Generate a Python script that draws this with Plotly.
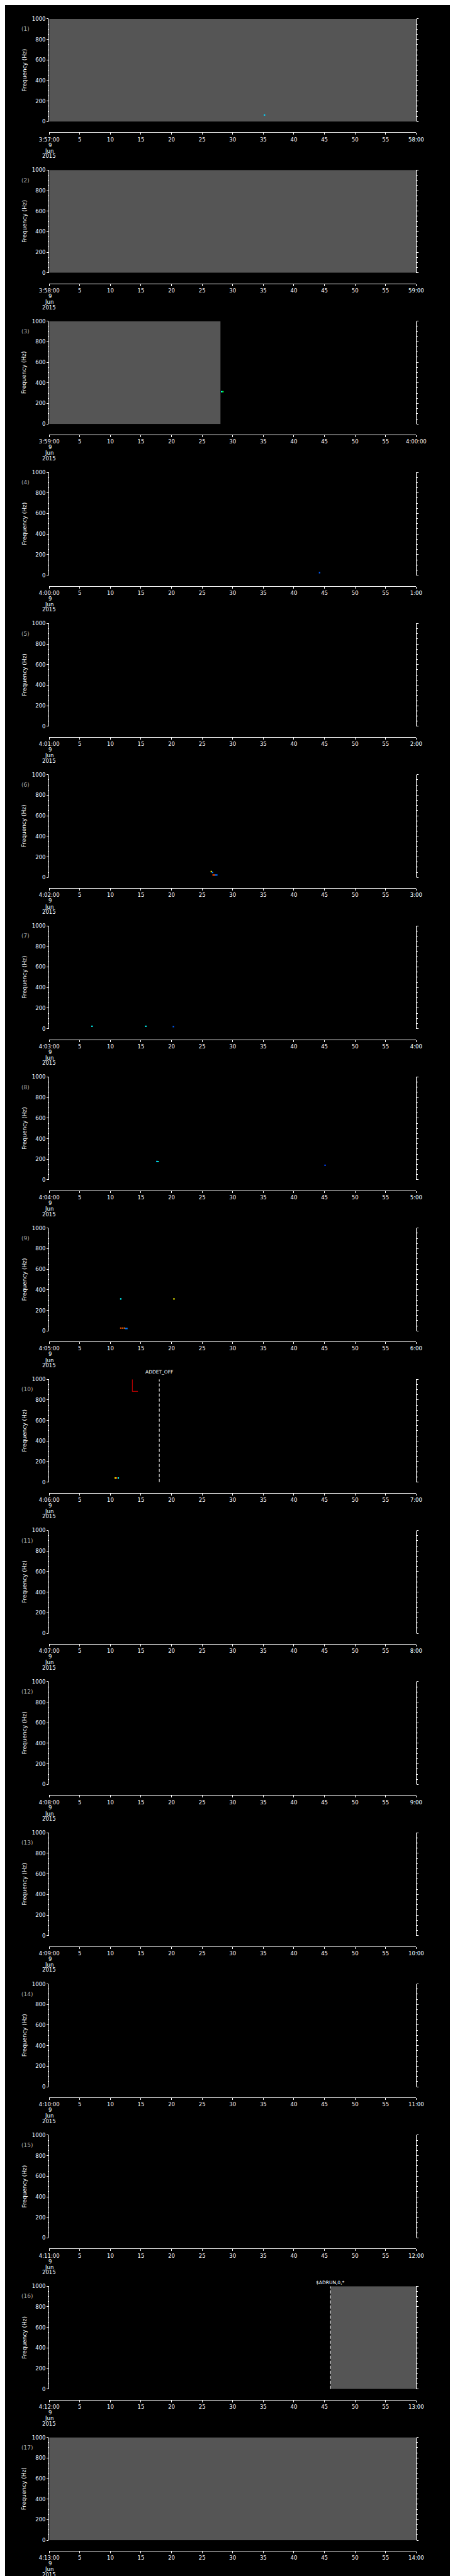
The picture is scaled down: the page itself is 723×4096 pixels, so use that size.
import plotly.graph_objects as go

# ---------------- data ----------------
start_labels = ["3:57:00", "3:58:00", "3:59:00", "4:00:00", "4:01:00", "4:02:00",
                "4:03:00", "4:04:00", "4:05:00", "4:06:00", "4:07:00", "4:08:00",
                "4:09:00", "4:10:00", "4:11:00", "4:12:00", "4:13:00"]
end_labels = ["58:00", "59:00", "4:00:00", "1:00", "2:00", "3:00", "4:00", "5:00",
              "6:00", "7:00", "8:00", "9:00", "10:00", "11:00", "12:00", "13:00", "14:00"]
date_lines = ["9", "Jun", "2015"]
tick_seconds = [0, 5, 10, 15, 20, 25, 30, 35, 40, 45, 50, 55, 60]
mid_tick_labels = ["5", "10", "15", "20", "25", "30", "35", "40", "45", "50", "55"]
freq_ticks = [0, 200, 400, 600, 800, 1000]

# spans of recorded data (panel number, start s, end s)
cov_panel = [1, 2, 3, 16, 17]
cov_start = [0.0, 0.0, 0.0, 46.0, 0.0]
cov_end = [60.0, 60.0, 28.0, 60.0, 60.0]

# isolated spectral features (panel, time s, freq Hz, relative power 0..1)
feat_panel = [1, 3, 3, 4, 6, 6, 6, 6, 6, 6, 7, 7, 7, 8, 8, 8, 9, 9, 9, 9, 9, 9, 9, 10, 10, 10]
feat_time = [35.2, 28.2, 28.4, 44.2, 26.5, 26.7, 26.8, 27.0, 27.2, 27.4, 7.0, 15.8, 20.3,
             17.6, 17.8, 45.1, 11.7, 20.4, 11.7, 12.0, 12.3, 12.5, 12.7, 10.8, 11.0, 11.3]
feat_freq = [65, 314, 314, 24, 57, 50, 24, 24, 24, 24, 23, 23, 20,
             178, 177, 141, 311, 311, 28, 28, 28, 24, 24, 40, 40, 40]
feat_power = [0.38, 0.42, 0.55, 0.22, 0.72, 0.30, 0.92, 0.90, 0.25, 0.25, 0.42, 0.42, 0.22,
              0.35, 0.45, 0.15, 0.42, 0.70, 0.90, 0.90, 0.85, 0.25, 0.30, 0.72, 0.90, 0.42]

# strong emission trace in panel 10
trace10_time = [13.6, 13.6, 14.5]
trace10_freq = [1000, 882, 882]

# instrument events
event_panel = [10, 16]
event_time = [18.0, 46.0]
event_text = ["ADDET_OFF", "$ADRUN,0,*"]

# ---------------- geometry (reference px, scaled via paper coords) ----------------
REF_W, REF_H = 1024.0, 5802.0
N = 17
P = REF_H / N
X0, X1 = 80.3 / REF_W, 944.5 / REF_W
TOP, BOT, XLINE = 24.1, 256.3, 280.4
event_raise = [17.0, 8.5]

def py(ref_y):
    return 1.0 - ref_y / REF_H

power_scale = [[0.0, "#0000ff"], [0.3, "#0080ff"], [0.42, "#00ffff"], [0.55, "#00ff40"],
               [0.7, "#ffff00"], [0.85, "#ff8000"], [1.0, "#ff0000"]]

TF = dict(family="DejaVu Sans, Arial, sans-serif", size=8.5, color="white")

fig = go.Figure()
layout = dict(width=723, height=4096, margin=dict(l=0, r=0, t=0, b=0),
              paper_bgcolor="black", plot_bgcolor="black", showlegend=False)
annotations = []

for i in range(N):
    k = i + 1
    sfx = "" if k == 1 else str(k)
    off = i * P
    layout["xaxis" + sfx] = dict(
        domain=[X0, X1], range=[0, 60], anchor="free", position=py(XLINE + off),
        showline=True, linecolor="white", linewidth=1, ticks="outside", ticklen=3,
        tickcolor="white", tickwidth=1, tickmode="array", tickvals=tick_seconds,
        ticktext=[start_labels[i]] + mid_tick_labels + [end_labels[i]],
        tickfont=TF, showgrid=False, zeroline=False, tickangle=0)
    layout["yaxis" + sfx] = dict(
        domain=[py(BOT + off), py(TOP + off)], range=[0, 1000], anchor="x" + sfx,
        showline=True, mirror="ticks", linecolor="white", linewidth=1,
        ticks="outside", ticklen=3, tickcolor="white", tickwidth=1,
        tickmode="array", tickvals=freq_ticks, tickfont=TF, showgrid=False, zeroline=False,
        minor=dict(dtick=50, ticks="outside", ticklen=1.5, tickcolor="white", tickwidth=1))

    # placeholder so every panel's axes are drawn
    fig.add_trace(go.Scatter(x=[None], y=[None], mode="markers", hoverinfo="skip",
                             xaxis="x" + sfx, yaxis="y" + sfx))

    # coverage fills
    for p, a, b in zip(cov_panel, cov_start, cov_end):
        if p == k:
            fig.add_trace(go.Scatter(x=[a, b, b, a, a], y=[0, 0, 1000, 1000, 0],
                                     fill="toself", fillcolor="#555555", mode="none",
                                     hoverinfo="skip", xaxis="x" + sfx, yaxis="y" + sfx))
    # features
    ft = [t for p, t in zip(feat_panel, feat_time) if p == k]
    if ft:
        ff = [f for p, f in zip(feat_panel, feat_freq) if p == k]
        fp = [v for p, v in zip(feat_panel, feat_power) if p == k]
        fig.add_trace(go.Scatter(x=ft, y=ff, mode="markers",
                                 marker=dict(symbol="square", size=2.2, color=fp,
                                             colorscale=power_scale, cmin=0, cmax=1,
                                             line=dict(width=0)),
                                 hoverinfo="skip", xaxis="x" + sfx, yaxis="y" + sfx))
    if k == 10:
        fig.add_trace(go.Scatter(x=trace10_time, y=trace10_freq, mode="lines",
                                 line=dict(color="#b00000", width=1.2),
                                 hoverinfo="skip", xaxis="x" + sfx, yaxis="y" + sfx))
    for j, (p, t, txt) in enumerate(zip(event_panel, event_time, event_text)):
        if p == k:
            fig.add_trace(go.Scatter(x=[t, t], y=[0, 1000], mode="lines",
                                     line=dict(color="white", width=1, dash="5px,3px"),
                                     hoverinfo="skip", xaxis="x" + sfx, yaxis="y" + sfx))
            annotations.append(dict(x=t, xref="x" + sfx, y=py(TOP + off - event_raise[j]),
                                    yref="paper", text=txt, showarrow=False,
                                    xanchor="center", yanchor="middle",
                                    font=dict(family="DejaVu Sans, Arial, sans-serif",
                                              size=7.5, color="white")))

    # panel number
    annotations.append(dict(x=12 / REF_W, y=py(TOP + off + 23), xref="paper", yref="paper",
                            text="(%d)" % k, showarrow=False, xanchor="left", yanchor="middle",
                            font=dict(family="DejaVu Sans, Arial, sans-serif", size=9,
                                      color="#a8a8a8")))
    # y title
    annotations.append(dict(x=22 / REF_W, y=py((TOP + BOT) / 2 + off), xref="paper",
                            yref="paper", text="Frequency (Hz)", textangle=-90,
                            showarrow=False, xanchor="center", yanchor="middle",
                            font=dict(family="DejaVu Sans, Arial, sans-serif", size=9,
                                      color="white")))
    # date lines under first tick
    for dl, dy, dx in zip(date_lines, [309, 322, 334], [82, 80, 80]):
        annotations.append(dict(x=dx / REF_W, y=py(dy + off), xref="paper", yref="paper",
                                text=dl, showarrow=False, xanchor="center", yanchor="middle",
                                font=TF))

layout["annotations"] = annotations
fig.update_layout(**layout)
fig.write_html("out.html")
